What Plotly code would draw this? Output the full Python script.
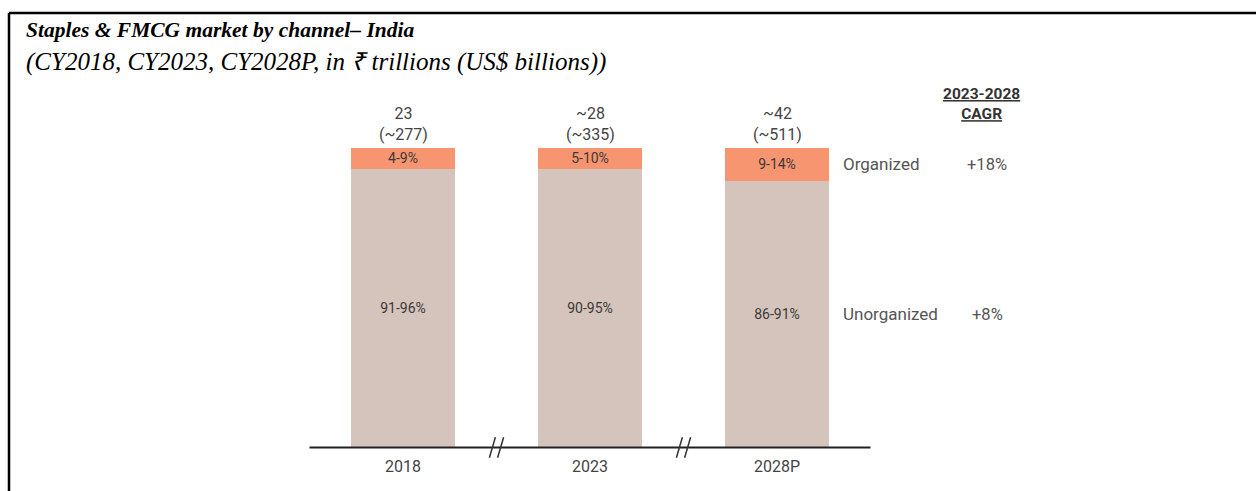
import plotly.graph_objects as go

# ---- data ----
years = ["2018", "2023", "2028P"]
organized_share = [7.3, 7.3, 11.3]
unorganized_share = [92.7, 92.7, 88.7]
organized_labels = ["4-9%", "5-10%", "9-14%"]
unorganized_labels = ["91-96%", "90-95%", "86-91%"]
totals_inr = ["23", "~28", "~42"]
totals_usd = ["(~277)", "(~335)", "(~511)"]
series_names = ["Organized", "Unorganized"]
cagr = ["+18%", "+8%"]
title = "Staples & FMCG market by channel– India"
subtitle = "(CY2018, CY2023, CY2028P, in ₹ trillions (US$ billions))"

W, H = 1256, 491
C_ORG = "#F89571"
C_UNORG = "#D5C4BB"
TXT = "#444444"
FONT = "Roboto"

xpos = list(range(len(years)))

fig = go.Figure()
fig.add_trace(go.Bar(
    x=xpos, y=unorganized_share, name=series_names[1], marker_color=C_UNORG,
    marker_line_width=0, width=0.56, text=unorganized_labels,
    textposition="inside", insidetextanchor="middle", textangle=0,
    constraintext="none", textfont=dict(family=FONT, size=14, color="#3a3a3a"),
    hoverinfo="skip"))
fig.add_trace(go.Bar(
    x=xpos, y=organized_share, name=series_names[0], marker_color=C_ORG,
    marker_line_width=0, width=0.56, text=organized_labels,
    textposition="inside", insidetextanchor="middle", textangle=0,
    constraintext="none", textfont=dict(family=FONT, size=14, color="#3a3a3a"),
    hoverinfo="skip"))

# pixel mapping: x unit = 187px, centre of first bar at 403px; y unit = 3px, y=0 at 447.5px
x0px, xu = 403, 187
xr = [-0.6, 2.6]
y0px, yu = 447.5, 3.0
yr = [-10, 110]
xdom = [(x0px + xr[0] * xu) / W, (x0px + xr[1] * xu) / W]
ydom = [1 - (y0px - yr[0] * yu) / H, 1 - (y0px - yr[1] * yu) / H]

annotations = []
for i, (a, b) in enumerate(zip(totals_inr, totals_usd)):
    annotations.append(dict(x=i, y=100, xref="x", yref="y", text=f"{a}<br>{b}",
                            showarrow=False, yanchor="bottom", yshift=2,
                            font=dict(family=FONT, size=16, color=TXT)))
    annotations.append(dict(x=i, y=0, xref="x", yref="y", text=years[i],
                            showarrow=False, yanchor="top", yshift=-7,
                            font=dict(family=FONT, size=16, color=TXT)))

last = len(years) - 1
org_mid = unorganized_share[last] + organized_share[last] / 2
unorg_mid = unorganized_share[last] / 2
for name, val, ymid in [(series_names[0], cagr[0], org_mid), (series_names[1], cagr[1], unorg_mid)]:
    annotations.append(dict(x=last, y=ymid, xref="x", yref="y", text=name,
                            showarrow=False, xanchor="left", xshift=64,
                            font=dict(family=FONT, size=17, color="#555555")))
    annotations.append(dict(x=987 / W, y=ymid, xref="paper", yref="y", text=val,
                            showarrow=False, xanchor="center",
                            font=dict(family=FONT, size=16.5, color="#555555")))

annotations.append(dict(x=981 / W, y=1 - 104 / H, xref="paper", yref="paper",
                        text="<b><u>2023-2028</u></b><br><b><u>CAGR</u></b>",
                        showarrow=False, xanchor="center", yanchor="middle",
                        font=dict(family=FONT, size=15.5, color="#333333")))

annotations.append(dict(x=24 / W, y=1 - 30 / H, xref="paper", yref="paper",
                        text=f"<b><i>{title}</i></b>", showarrow=False,
                        xanchor="left", yanchor="middle",
                        font=dict(family="Liberation Serif", size=21.5, color="#000000")))
annotations.append(dict(x=24 / W, y=1 - 62 / H, xref="paper", yref="paper",
                        text=f"<i>{subtitle}</i>", showarrow=False,
                        xanchor="left", yanchor="middle",
                        font=dict(family="Liberation Serif", size=25, color="#000000")))

shapes = []
shapes.append(dict(type="line", xref="x", yref="y", x0=-0.5, x1=2.5, y0=0, y1=0,
                   line=dict(color="#222222", width=1.8), layer="above"))
for bx in [0.5, 1.5]:
    for off in [-0.022, 0.022]:
        shapes.append(dict(type="line", xref="x", yref="y",
                           x0=bx + off - 0.016, x1=bx + off + 0.016, y0=-3.4, y1=3.4,
                           line=dict(color="#333333", width=1.5), layer="above"))
top = 1 - 13 / H
shapes.append(dict(type="line", xref="paper", yref="paper", x0=9 / W, x1=1.0, y0=top, y1=top,
                   line=dict(color="black", width=2.5)))
shapes.append(dict(type="line", xref="paper", yref="paper", x0=9 / W, x1=9 / W, y0=0, y1=top,
                   line=dict(color="black", width=2.5)))

fig.update_layout(
    width=W, height=H, margin=dict(l=0, r=0, t=0, b=0),
    paper_bgcolor="white", plot_bgcolor="white",
    barmode="stack", showlegend=False,
    xaxis=dict(domain=xdom, range=xr, visible=False, fixedrange=True),
    yaxis=dict(domain=ydom, range=yr, visible=False, fixedrange=True),
    annotations=annotations, shapes=shapes,
)
fig.write_html("out.html", config={"displayModeBar": False},
               post_script="document.body.style.margin='0px';")
